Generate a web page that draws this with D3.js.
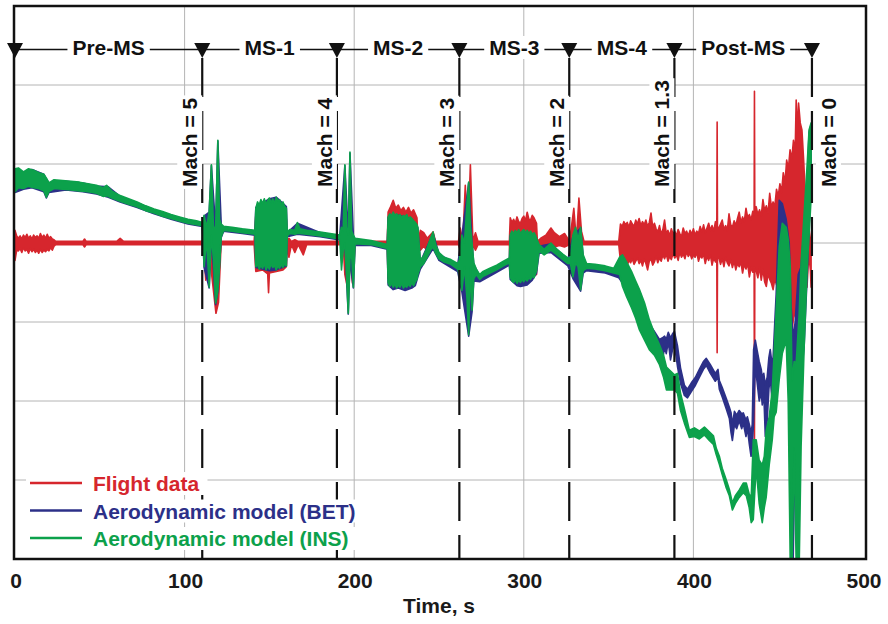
<!DOCTYPE html>
<html lang="en">
<head>
<meta charset="UTF-8">
<title>Flight data vs aerodynamic model</title>
<style>
  body { margin: 0; background: #fff; }
  svg text { font-family: "Liberation Sans", Arial, Helvetica, sans-serif; font-weight: bold; }
</style>
</head>
<body>
<div id="chart"></div>
<script src="https://d3js.org/d3.v7.min.js"></script>
<script>
// ---- chart values (time in s, response in arbitrary units; each row = [t, low, high]) ----
const xTicks = [0, 100, 200, 300, 400, 500];
const yGrid = [-30, -20, -10, 0, 10, 20];
const eventTimes = [0, 110.4, 189.8, 262, 326.8, 388.8, 469.9];
const phaseNames = ["Pre-MS", "MS-1", "MS-2", "MS-3", "MS-4", "Post-MS"];
const machNames = ["Mach = 5", "Mach = 4", "Mach = 3", "Mach = 2", "Mach = 1.3", "Mach = 0"];
const seriesNames = ["Flight data", "Aerodynamic model (BET)", "Aerodynamic model (INS)"];
const seriesColors = ["#d6262d", "#2c3088", "#0ca14b"];

const flightData = [
  [0, -2.2, 1.6], [1, -0.9, 0.9], [2, -1.0, 0.6], [3, -0.7, 0.9], [4, -1.2, 0.5],
  [5, -0.6, 1.0], [6, -1.0, 0.7], [7, -0.8, 1.1], [8, -1.3, 0.6], [9, -0.7, 0.9],
  [10, -1.1, 0.5], [11, -0.8, 1.0], [12, -1.2, 0.7], [13, -0.9, 0.9], [14, -1.3, 0.6],
  [15, -0.8, 1.2], [16, -1.2, 0.7], [17, -0.9, 1.0], [18, -1.1, 0.6], [19, -0.8, 1.1],
  [20, -1.0, 0.6], [21, -0.6, 0.8], [22, -0.9, 0.5], [23, -0.4, 0.4], [24, -0.2, 0.2],
  [40, -0.2, 0.2], [41, -0.5, 0.5], [42, -0.2, 0.2], [60, -0.2, 0.2], [62, -0.2, 0.6],
  [64, -0.2, 0.2], [90, -0.2, 0.2], [111, -0.2, 0.2], [112.5, -4.7, 0.2], [114, -0.2, 0.2],
  [117, -6.0, 0.2], [118.5, -8.9, 0.2], [120, -7.5, 0.2], [121.5, -0.2, 0.2], [141, -0.2, 0.2],
  [142, -3.6, 3.5], [146, -3.4, 4.0], [149, -3.9, 4.0], [149.5, -6.3, 4.0], [150, -3.8, 4.0],
  [154, -3.6, 4.0], [158, -3.4, 4.0], [160, -3.0, 3.0], [160.5, -0.2, 0.2], [161.5, -1.8, 0.6],
  [163, -0.2, 0.2], [165, -1.2, 0.4], [167, -0.2, 0.2], [170, -1.5, 0.2], [172, -0.2, 0.2],
  [193.5, -0.2, 0.2], [194.5, -4.0, 0.2], [196, -5.6, 0.2], [197.5, -2.0, 0.2], [199, -5.1, 0.2],
  [200.5, -0.2, 0.2], [219.5, -0.2, 0.2],
  [220, -4.5, 3.9], [221.5, -4.5, 4.6], [223, -4.5, 5.4], [224.5, -4.5, 4.4], [226, -4.5, 4.8],
  [227.5, -4.5, 4.1], [229, -4.5, 4.5], [230.5, -4.5, 3.9], [232, -4.5, 4.5], [233.5, -4.5, 3.8],
  [235, -4.5, 4.2], [237, -4.0, 3.2], [237.6, -0.2, 0.2],
  [239, -0.9, 1.6], [241, -0.4, 1.3], [243, -1.0, 0.6], [246.5, -0.3, 1.4], [248, -0.2, 0.2],
  [261.5, -0.2, 0.2], [262.5, -0.9, 1.9], [264, -0.2, 0.2], [265.5, -3.0, 7.3], [267, -0.2, 0.2],
  [268.5, -4.0, 9.9], [270, -0.2, 0.2], [271.5, -0.9, 1.3], [273, -0.2, 0.2], [291.5, -0.2, 0.2],
  [292, -4.0, 3.2], [293, -4.0, 2.6], [294, -4.0, 3.0], [295, -4.0, 2.5], [296, -4.0, 3.3],
  [297, -4.0, 2.7], [298, -4.0, 2.5], [299, -4.0, 3.1], [300, -4.0, 3.4], [301, -4.0, 2.8],
  [302, -4.0, 3.9], [303, -4.0, 3.0], [304, -4.0, 2.9], [305, -4.0, 3.5], [306, -4.0, 3.2],
  [307.5, -4.0, 2.5], [308, -0.2, 0.2],
  [310, -0.5, 0.6], [313, -0.4, 1.0], [316, -0.3, 1.9], [318, -0.5, 1.3], [321, -0.3, 0.8],
  [324, -0.5, 1.2], [327, -0.2, 0.2], [329.5, -0.2, 4.4], [331, -0.2, 0.2], [332.5, -0.2, 5.7],
  [334, -0.2, 1.5], [335.5, -0.2, 0.2], [356, -0.2, 0.2],
  [357, -2.3, 2.4], [358, -2.6, 2.1], [359, -2.1, 2.7], [360, -2.5, 2.3], [361, -2.8, 2.6],
  [362, -2.2, 2.0], [363, -2.5, 2.8], [364, -2.0, 2.4], [365, -2.7, 2.1], [366, -2.3, 2.9],
  [367, -1.9, 2.4], [368, -2.6, 3.1], [369, -2.2, 2.2], [370, -2.9, 2.7], [371, -2.0, 2.3],
  [372, -2.6, 2.9], [373, -3.4, 2.1], [374, -2.3, 2.6], [375, -2.0, 3.8], [376, -2.8, 2.0],
  [377, -2.4, 2.5], [378, -1.7, 1.8], [379, -2.5, 1.4], [380, -1.9, 2.2], [381, -2.3, 1.1],
  [382, -1.5, 1.7], [383, -2.0, 2.9], [384, -1.4, 1.2], [385, -2.3, 1.6], [386, -1.7, 0.9],
  [387, -2.1, 1.8], [388, -1.3, 1.1], [389, -1.9, 1.5], [390, -1.5, 0.9], [391, -2.2, 1.7],
  [392, -1.2, 1.2], [393, -1.8, 0.8], [394, -1.4, 1.9], [395, -2.0, 1.2], [396, -1.1, 1.5],
  [397, -1.7, 0.9], [398, -1.3, 1.6], [399, -2.0, 1.1], [400, -1.5, 1.8], [401, -1.8, 1.0],
  [402, -1.2, 1.5], [403, -2.3, 1.2], [404, -1.6, 2.1], [405, -1.9, 1.4], [406, -1.4, 2.3],
  [407, -2.6, 1.3], [408, -1.7, 1.9], [409, -2.2, 2.5], [410, -1.5, 1.6], [411, -2.8, 2.2],
  [412, -1.9, 1.5], [413, -2.4, 2.7], [413.8, -2.0, 2.0], [414, -13.9, 15.3], [414.2, -2.0, 2.0],
  [415, -1.8, 1.9], [416, -2.7, 2.4], [417, -2.0, 2.9], [418, -3.0, 1.7], [419, -1.8, 2.2],
  [420, -2.5, 1.6], [421, -2.9, 3.7], [422, -2.1, 2.3], [423, -3.1, 2.0], [424, -2.3, 2.8],
  [425, -3.4, 2.2], [426, -2.6, 3.1], [427, -3.0, 3.9], [428, -2.4, 2.6], [429, -3.8, 3.3],
  [430, -2.7, 2.7], [431, -3.3, 4.4], [432, -2.6, 3.2], [433, -4.3, 3.6], [434, -3.1, 2.9],
  [435, -3.7, 4.0], [435.8, -3.0, 3.5], [436, -24.9, 19.2], [436.2, -3.2, 3.8], [437, -3.5, 4.6],
  [438, -4.4, 3.6], [439, -3.0, 4.2], [440, -4.7, 3.4], [441, -3.3, 5.5], [442, -4.9, 4.1],
  [443, -5.5, 4.7], [444, -3.9, 3.8], [445, -4.6, 6.3], [446, -5.1, 4.5], [447, -5.9, 5.2],
  [448, -4.5, 4.6], [449, -5.3, 6.8], [450, -4.6, 5.9], [451, -6.0, 7.5], [452, -5.4, 6.4],
  [453, -7.0, 8.9], [454, -6.2, 7.6], [455, -6.8, 10.5], [456, -8.1, 9.4], [457, -9.0, 11.8],
  [458, -11.4, 10.6], [459, -9.5, 13.0], [460, -8.9, 11.5], [460.6, -7.8, 18.1], [461.2, -8.5, 14.0],
  [462, -6.0, 17.7], [463, -4.7, 15.2], [464, -6.0, 14.3], [465, -5.2, 10.5], [466, -4.0, 6.0],
  [467, -5.6, 4.6], [468, -1.3, 2.0], [469, -3.5, 0.5], [469.4, -5.6, -1.3]
];

const betData = [
  [0, 6.4, 9.3], [5, 6.8, 9.0], [10, 7.0, 9.3], [17, 6.5, 8.7], [18.5, 5.7, 8.1],
  [20, 6.4, 7.6], [30, 6.7, 7.8], [40, 6.5, 7.6], [48, 6.2, 7.2], [55, 5.8, 7.1],
  [62, 5.2, 5.9], [72, 4.5, 5.1], [82, 3.7, 4.2], [92, 3.0, 3.5], [102, 2.4, 2.9],
  [110.5, 2.1, 2.5], [111.5, -3.1, 3.4], [114.5, -5.7, 3.9], [115.8, 0.9, 9.8], [118.3, -7.8, 1.9],
  [119.6, -6.1, 12.9], [121.6, 0.7, 2.3], [123, 1.5, 2.0], [134, 1.2, 1.7], [141.5, 1.0, 1.5],
  [142, -3.1, 4.5], [150, -3.5, 5.6], [154, -3.4, 5.8], [160, -2.9, 4.6], [160.5, 0.8, 1.3],
  [166.5, 1.1, 2.5], [180, 0.8, 1.3], [191.5, 0.4, 0.9], [194.5, -0.1, 9.8], [196.5, -9.0, 0.9],
  [197.5, -2.1, 11.4], [199.5, -5.7, 0.9], [200.5, -0.3, 0.5], [210, -0.3, 0.2], [219.5, -0.8, -0.3],
  [220, -5.3, 3.2], [223, -5.9, 3.6], [226, -5.7, 3.5], [230, -6.0, 3.3], [234, -5.7, 3.0],
  [236, -5.4, 2.5], [237.5, -4.3, 1.9], [239, -3.3, -2.4], [246.5, -0.7, 1.2], [250, -2.2, -1.4],
  [261, -3.6, -2.8], [263.5, -6.2, 0.9], [267.5, -11.8, 7.6], [269.5, -8.7, -0.1], [270.5, -4.8, -2.7],
  [274, -4.9, -4.2], [284, -3.7, -3.0], [291.5, -2.8, -2.1], [292, -4.6, 0.9], [296, -5.4, 1.2],
  [298, -5.5, 1.2], [302, -5.3, 1.3], [305, -4.7, 1.0], [307.5, -3.8, 0.5], [309, -1.3, -0.4],
  [316, -1.2, -0.1], [326, -2.9, -2.1], [329, -4.5, 0.9], [333.5, -6.1, 1.9], [335, -3.8, -1.7],
  [337, -3.5, -2.8], [348, -3.8, -3.1], [356, -4.4, -3.6],
  [358, -5.0, -2.0], [362, -6.5, -3.2], [365, -8.0, -4.8], [368, -9.5, -6.0], [371, -10.6, -8.0],
  [374, -11.8, -10.2], [377, -12.3, -11.2], [380, -13.6, -12.2], [381.8, -14.8, -12.0], [383, -13.2, -11.8],
  [384, -14.0, -12.2], [385.2, -12.5, -11.3], [386.5, -14.8, -12.0], [387.7, -13.5, -11.5], [388.8, -12.8, -11.2],
  [390.6, -15.6, -13.0], [392.4, -17.8, -15.8], [394.7, -19.3, -18.0], [396.5, -19.6, -18.5], [398.8, -18.8, -17.7],
  [401.2, -18.0, -17.0], [403.5, -17.0, -16.0], [405.9, -16.0, -15.0], [407.6, -15.5, -14.6], [410, -16.5, -15.4],
  [412.9, -17.5, -16.5], [414.5, -17.0, -16.0], [415.3, -18.5, -17.4], [417, -19.5, -18.3], [419.4, -21.0, -19.7],
  [421.2, -22.2, -20.8], [422.2, -24.0, -21.5], [423, -25.0, -23.0], [424.2, -23.0, -21.3], [425.5, -23.5, -21.8],
  [427, -22.5, -21.2], [428.5, -23.5, -21.6], [429.4, -22.8, -21.5], [431, -24.5, -22.4], [431.8, -23.4, -22.0],
  [433, -25.5, -23.0], [434, -27.0, -24.0], [434.7, -26.0, -23.0], [435.5, -22.5, -13.5], [436.5, -15.5, -12.3],
  [437.5, -17.5, -13.5], [438.8, -20.0, -15.0], [440, -19.0, -16.0], [440.6, -20.5, -17.0], [441.5, -19.0, -16.5],
  [442.4, -24.5, -18.0], [443.5, -22.5, -17.0], [444.5, -18.5, -14.5], [445.3, -17.0, -13.5], [446.2, -19.5, -15.0],
  [447, -20.0, -14.5], [448, -17.5, -10.0], [448.8, -15.0, -6.5], [450.6, -8.0, 5.4], [452.4, -3.0, 5.0],
  [454.7, -8.0, 3.0], [456.5, -14.5, 0.0], [457.6, -27.0, -8.0], [458.8, -40.5, -12.0], [460, -25.0, -10.0],
  [461.8, -17.0, -4.0], [463.5, -17.3, -3.0], [465.3, -13.0, 2.0], [467.1, -4.0, 8.0], [468.2, 2.0, 14.0],
  [469.4, 8.0, 15.0]
];

const insData = [
  [0, 6.5, 9.4], [2, 7.0, 9.5], [5, 6.9, 9.0], [8, 7.2, 9.4], [11, 7.0, 9.2],
  [14, 6.9, 8.9], [17, 6.6, 8.7], [18.5, 5.8, 8.2], [20, 6.5, 7.6], [23, 6.9, 8.0],
  [28, 6.8, 7.9], [33, 6.7, 7.8], [38, 6.6, 7.7], [43, 6.5, 7.5], [48, 6.3, 7.3],
  [52, 5.9, 7.0], [54, 6.0, 7.3], [57, 5.7, 6.6], [62, 5.3, 6.0], [67, 4.9, 5.6],
  [72, 4.6, 5.2], [77, 4.1, 4.7], [82, 3.8, 4.3], [87, 3.4, 4.0], [92, 3.1, 3.6],
  [97, 2.8, 3.3], [102, 2.5, 3.0], [107, 2.3, 2.8], [110.5, 2.2, 2.6], [111.5, -3.0, 3.5],
  [113, 0.5, 2.0], [114.5, -5.6, 4.0], [115.8, 1.0, 9.9], [117, -2.0, 2.0], [118.3, -7.6, 2.0],
  [119.6, -6.0, 13.0], [120.6, -3.0, 3.0], [121.6, 0.8, 2.4], [123, 1.6, 2.1], [128, 1.5, 2.0],
  [134, 1.3, 1.8], [141.5, 1.1, 1.6],
  [142, -3.0, 4.4], [143, -2.7, 5.2], [144, -3.3, 4.8], [145, -2.8, 5.5], [146, -3.2, 5.0],
  [147, -2.6, 5.6], [148, -3.4, 4.9], [149, -2.9, 5.4], [150, -3.3, 5.7], [151, -2.7, 5.1],
  [152, -3.1, 5.6], [153, -2.8, 5.0], [154, -3.4, 5.8], [155, -2.9, 5.3], [156, -3.2, 5.5],
  [157, -2.7, 4.9], [158, -3.1, 5.2], [159, -2.6, 4.6], [160, -2.9, 4.4], [160.5, 0.9, 1.4],
  [162, 1.2, 1.7], [165, 1.1, 1.6], [166.5, 1.2, 2.6], [168, 1.2, 1.8], [172, 1.1, 1.6],
  [180, 0.9, 1.4], [191.5, 0.5, 1.0], [192.5, -3.4, 2.0], [193.5, -1.0, 1.5], [194.5, 0.0, 9.9],
  [195.5, -4.0, 2.0], [196.5, -8.9, 1.0], [197.5, -2.0, 11.5], [198.5, -1.5, 1.5], [199.5, -5.6, 1.0],
  [200.5, -0.1, 0.6], [210, -0.2, 0.3], [219.5, -0.7, -0.2],
  [220, -5.0, 3.3], [221, -5.5, 3.7], [222, -5.1, 3.4], [223, -5.6, 3.9], [224, -5.2, 3.5],
  [225, -5.7, 3.7], [226, -5.3, 3.4], [227, -5.6, 3.6], [228, -5.1, 3.2], [229, -5.7, 3.5],
  [230, -5.4, 3.3], [231, -5.6, 3.6], [232, -5.2, 3.0], [233, -5.5, 3.3], [234, -5.0, 3.1],
  [235, -5.4, 2.8], [236, -4.9, 2.6], [237, -4.6, 2.3], [237.5, -4.0, 2.0],
  [239, -3.0, -2.2], [241, -2.6, -1.6], [243, -1.8, -0.6], [245, -0.9, 0.6], [246.5, -0.5, 1.4],
  [248, -1.3, -0.2], [250, -2.0, -1.2], [253, -2.4, -1.8], [257, -2.7, -2.1], [261, -3.3, -2.6],
  [262, -4.0, -2.2], [263.5, -6.0, 1.0], [265, -3.0, 0.0], [266.5, -7.0, 5.0], [267.5, -11.6, 7.7],
  [268.5, -3.0, 2.0], [269.5, -8.5, 0.0], [270.5, -4.5, -2.5], [272, -4.0, -3.3], [274, -4.6, -4.0],
  [276, -4.2, -3.6], [280, -3.8, -3.2], [284, -3.4, -2.8], [288, -2.9, -2.3], [291.5, -2.5, -1.9],
  [292, -4.3, 1.0], [293, -4.8, 1.5], [294, -5.0, 1.2], [295, -4.6, 1.6], [296, -5.1, 1.3],
  [297, -4.7, 1.7], [298, -5.0, 1.2], [299, -4.6, 1.5], [300, -4.9, 1.7], [301, -4.5, 1.3],
  [302, -4.8, 1.6], [303, -4.4, 1.2], [304, -4.6, 1.5], [305, -4.2, 1.1], [306, -4.4, 1.3],
  [307, -3.8, 0.9], [307.5, -3.5, 0.6],
  [309, -1.0, -0.2], [312, -1.5, -0.8], [316, -0.9, 0.0], [319, -1.4, -0.7], [323, -2.1, -1.4],
  [326, -2.6, -1.9], [327.5, -2.6, -1.8], [329, -4.3, 1.0], [330.5, -2.5, 2.0], [332, -3.0, 0.5],
  [333.5, -5.9, 2.0], [335, -3.5, -1.5], [337, -3.2, -2.6], [342, -3.3, -2.7], [348, -3.5, -2.9],
  [353, -3.8, -3.2], [356.5, -4.0, -1.8], [358.2, -5.5, -1.5], [360.6, -6.8, -2.4], [363.5, -8.2, -3.6],
  [365.9, -9.5, -4.8], [368.2, -11.0, -5.9], [371.2, -12.3, -7.6], [374, -13.5, -9.7], [377, -14.2, -11.4],
  [380, -15.4, -12.9], [382.4, -17.0, -14.2], [384.1, -18.6, -15.7], [386.5, -18.6, -16.2], [388.8, -18.6, -16.7],
  [390.6, -19.0, -16.5], [392.4, -21.2, -19.0], [394.7, -22.8, -21.0], [397.6, -24.6, -23.7], [400.6, -24.5, -23.4],
  [403.5, -24.8, -23.8], [406.5, -24.3, -23.3], [409.4, -25.0, -23.9], [411.8, -25.5, -24.4], [413.5, -26.8, -26.0],
  [415.3, -28.0, -27.0], [417, -29.3, -28.5], [419.4, -31.0, -30.0], [421.2, -32.0, -31.2], [423, -33.8, -32.9],
  [424.7, -33.0, -32.0], [427, -32.2, -31.3], [429.4, -31.6, -30.4], [431.2, -32.0, -30.4], [432.9, -33.5, -31.8],
  [434.1, -35.4, -32.2], [435.3, -35.0, -24.9], [437, -28.4, -24.9], [438.8, -33.0, -27.5], [440.6, -35.4, -28.1],
  [441.8, -33.5, -27.0], [442.9, -32.2, -23.8], [444.7, -28.1, -22.0], [446.5, -24.9, -18.6], [447.6, -22.0, -14.0],
  [448.8, -21.4, -8.5], [450.6, -17.3, -0.5], [452.4, -14.0, 2.5], [454.7, -12.3, 2.0], [455.9, -20.0, 0.5],
  [457.1, -40.5, -3.0], [458.2, -40.5, -17.5], [459.4, -26.0, -15.0], [460.6, -40.5, -15.2], [462.4, -40.5, -8.9],
  [463.5, -25.8, -2.5], [465.3, -13.2, 3.8], [467.1, -3.0, 10.0], [468.2, 1.0, 14.3], [469.4, 5.7, 15.2]
];

// ---- layout ----
const width = 888, height = 624;
const plot = { left: 14, top: 6, right: 866, bottom: 559 };

const svg = d3.select("#chart").append("svg")
  .attr("width", width)
  .attr("height", height);

const x = d3.scaleLinear().domain([0, 500]).range([15, 863]);
const y = d3.scaleLinear().domain([-40, 30]).range([plot.bottom, plot.top]);

// grid
const grid = svg.append("g").attr("stroke", "#b4b4b4").attr("stroke-width", 1);
grid.selectAll("line.v")
  .data(xTicks.filter(t => t > 0 && t < 500))
  .join("line")
  .attr("x1", d => x(d)).attr("x2", d => x(d))
  .attr("y1", plot.top).attr("y2", plot.bottom);
grid.selectAll("line.h")
  .data(yGrid)
  .join("line")
  .attr("x1", plot.left).attr("x2", plot.right)
  .attr("y1", d => y(d)).attr("y2", d => y(d));

// data bands
svg.append("clipPath").attr("id", "clip")
  .append("rect")
  .attr("x", plot.left).attr("y", plot.top)
  .attr("width", plot.right - plot.left).attr("height", plot.bottom - plot.top);

const band = d3.area()
  .x(d => x(d[0]))
  .y0(d => y(d[1]))
  .y1(d => y(d[2]));

const dataG = svg.append("g").attr("clip-path", "url(#clip)");
[flightData, betData, insData].forEach((series, i) => {
  dataG.append("path")
    .datum(series)
    .attr("d", band)
    .attr("fill", seriesColors[i])
    .attr("stroke", seriesColors[i])
    .attr("stroke-width", 1.6)
    .attr("stroke-linejoin", "round");
});

// frame
svg.append("rect")
  .attr("x", plot.left).attr("y", plot.top)
  .attr("width", plot.right - plot.left).attr("height", plot.bottom - plot.top)
  .attr("fill", "none").attr("stroke", "#111").attr("stroke-width", 2.5);

// event markers
const markY = 49.5;
const ev = svg.append("g");
ev.append("line")
  .attr("x1", x(eventTimes[0])).attr("x2", x(eventTimes[eventTimes.length - 1]))
  .attr("y1", markY).attr("y2", markY)
  .attr("stroke", "#111").attr("stroke-width", 1.5);

ev.selectAll("line.mach")
  .data(eventTimes.slice(1))
  .join("line")
  .attr("x1", d => x(d)).attr("x2", d => x(d))
  .attr("y1", 58).attr("y2", plot.bottom)
  .attr("stroke", "#111").attr("stroke-width", 2.2)
  .attr("stroke-dasharray", "39,14");

// phase labels between markers
phaseNames.forEach((name, i) => {
  const cx = (x(eventTimes[i]) + x(eventTimes[i + 1])) / 2;
  const g = ev.append("g");
  const t = g.append("text")
    .attr("x", cx).attr("y", 55)
    .attr("text-anchor", "middle")
    .attr("font-size", 21)
    .attr("fill", "#111")
    .text(name);
  const b = t.node().getBBox();
  g.insert("rect", "text")
    .attr("x", b.x - 5).attr("y", b.y)
    .attr("width", b.width + 10).attr("height", b.height)
    .attr("fill", "#fff");
});

ev.selectAll("path.tri")
  .data(eventTimes)
  .join("path")
  .attr("d", d => {
    const cx = x(d);
    return `M${cx - 8},43L${cx + 8},43L${cx},58Z`;
  })
  .attr("fill", "#111");

// Mach labels, rotated
machNames.forEach((name, i) => {
  const last = i === machNames.length - 1;
  const lx = x(eventTimes[i + 1]) + (last ? 24 : -5);
  const g = ev.append("g").attr("transform", `translate(${lx},187) rotate(-90)`);
  const t = g.append("text")
    .attr("x", 0).attr("y", 0)
    .attr("font-size", 21)
    .attr("fill", "#111")
    .text(name);
  const b = t.node().getBBox();
  g.insert("rect", "text")
    .attr("x", b.x - 2).attr("y", b.y - 1)
    .attr("width", b.width + 4).attr("height", b.height + 2)
    .attr("fill", "#fff");
});

// legend
const legend = svg.append("g");
seriesNames.forEach((name, i) => {
  const ly = 483 + i * 27.5;
  const g = legend.append("g");
  g.append("line")
    .attr("x1", 30).attr("x2", 82)
    .attr("y1", ly).attr("y2", ly)
    .attr("stroke", seriesColors[i]).attr("stroke-width", 2.5);
  const t = g.append("text")
    .attr("x", 93).attr("y", ly + 8)
    .attr("font-size", 21)
    .attr("fill", seriesColors[i])
    .text(name);
  const b = t.node().getBBox();
  g.insert("rect", "line")
    .attr("x", 26).attr("y", b.y)
    .attr("width", b.x + b.width + 8 - 26).attr("height", b.height)
    .attr("fill", "#fff");
});

// x tick labels and title
svg.append("g").selectAll("text")
  .data(xTicks)
  .join("text")
  .attr("x", d => x(d) + 1)
  .attr("y", 588)
  .attr("text-anchor", "middle")
  .attr("font-size", 21)
  .attr("fill", "#1a1a1a")
  .text(d => d);

svg.append("text")
  .attr("x", x(250))
  .attr("y", 613)
  .attr("text-anchor", "middle")
  .attr("font-size", 21)
  .attr("fill", "#1a1a1a")
  .text("Time, s");
</script>
</body>
</html>
